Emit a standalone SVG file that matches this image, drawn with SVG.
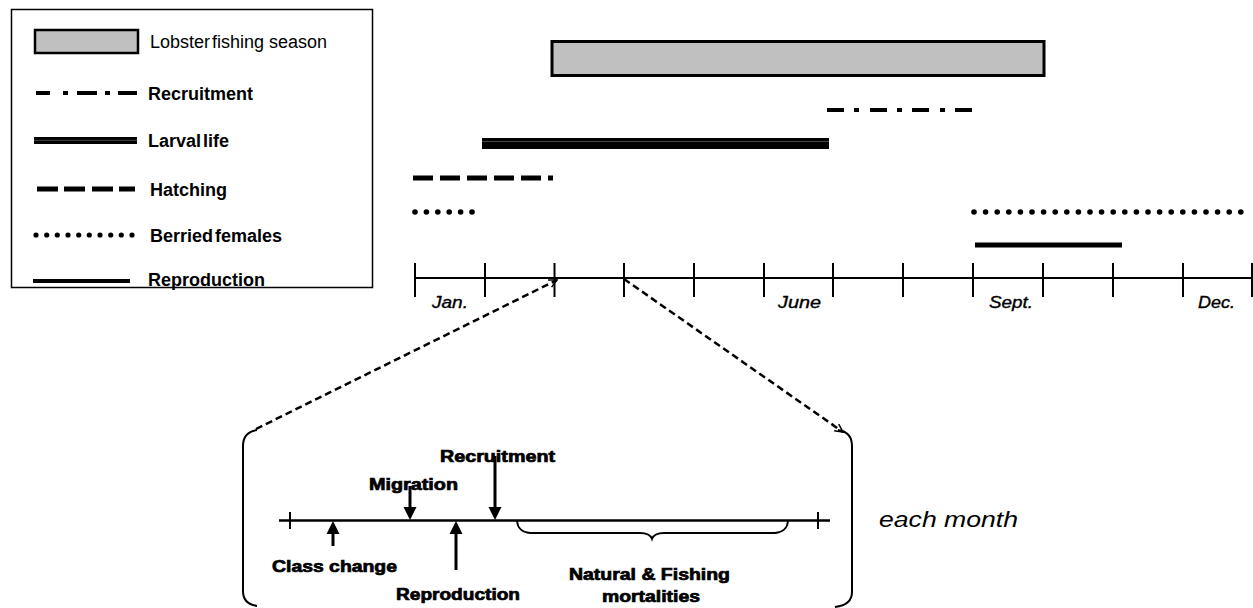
<svg xmlns="http://www.w3.org/2000/svg" width="1253" height="608" viewBox="0 0 1253 608">
<style>
.lg{font-family:"Liberation Sans",Arial,sans-serif;font-size:18px;font-weight:bold;fill:#000}
.lgr{font-family:"Liberation Sans",Arial,sans-serif;font-size:18px;fill:#000}
.mo{font-family:"Liberation Sans",Arial,sans-serif;font-size:16px;font-style:italic;fill:#000;stroke:#000;stroke-width:0.35}
.ev{font-family:"Liberation Sans",Arial,sans-serif;font-size:16px;font-weight:bold;fill:#000;stroke:#000;stroke-width:0.7}
.em{font-family:"Liberation Sans",Arial,sans-serif;font-size:22px;font-style:italic;fill:#000}
.ln{stroke:#000;fill:none}
.dot{fill:#000}
.arr{stroke:#000;stroke-width:3;fill:none}
.ah{fill:#000}
.conn{stroke:#000;stroke-width:2.5;stroke-dasharray:7 4;fill:none}
</style>
<defs>
<marker id="oa" viewBox="0 0 10 10" refX="9" refY="5" markerWidth="4" markerHeight="4" orient="auto" markerUnits="strokeWidth">
<path d="M1 1 L9 5 L1 9" fill="none" stroke="#000" stroke-width="1.5"/>
</marker>
</defs>
<rect width="1253" height="608" fill="#fff"/>

<g id="legend">
<rect x="11.5" y="9.5" width="361" height="278" fill="none" stroke="#000" stroke-width="1.5"/>
<rect x="35" y="30" width="103" height="23" fill="#C0C0C0" stroke="#000" stroke-width="2.5"/>
<text class="lgr" x="150" y="48">Lobster<tspan dx="2">fishing season</tspan></text>
<path class="ln" stroke-width="4" d="M36 93h14M63 93h5M77 93h20M105 93h5M118 93h19"/>
<text class="lg" x="148" y="100">Recruitment</text>
<rect x="34" y="137" width="103" height="7" fill="#000"/>
<line x1="34" y1="140.3" x2="137" y2="140.3" stroke="#777" stroke-width="0.6"/>
<text class="lg" x="148" y="147" word-spacing="-3">Larval life</text>
<path class="ln" stroke-width="5" d="M37 189h21M64 189h21M92 189h21M119 189h16"/>
<text class="lg" x="150" y="196">Hatching</text>
<g class="dot">
<circle cx="36" cy="235" r="2.6"/><circle cx="46.7" cy="235" r="2.6"/><circle cx="57.3" cy="235" r="2.6"/><circle cx="68" cy="235" r="2.6"/><circle cx="78.7" cy="235" r="2.6"/><circle cx="89.3" cy="235" r="2.6"/><circle cx="100" cy="235" r="2.6"/><circle cx="110.7" cy="235" r="2.6"/><circle cx="121.3" cy="235" r="2.6"/><circle cx="132" cy="235" r="2.6"/>
</g>
<text class="lg" x="150" y="242" word-spacing="-3">Berried females</text>
<line class="ln" x1="33" y1="281" x2="130" y2="281" stroke-width="4"/>
<text class="lg" x="148" y="286">Reproduction</text>
</g>

<g id="fishing-season">
<rect x="552" y="41.5" width="492" height="34" fill="#C0C0C0" stroke="#000" stroke-width="3"/>
</g>

<g id="recruitment">
<path class="ln" stroke-width="4" d="M827 110h17M854 110h5M870 110h17M897 110h5M912 110h17M940 110h5M955 110h17"/>
</g>

<g id="larval-life">
<rect x="482" y="138" width="347" height="11" fill="#000"/>
<line x1="482" y1="141.5" x2="829" y2="141.5" stroke="#777" stroke-width="0.6"/>
</g>

<g id="hatching">
<path class="ln" stroke-width="5" d="M413 178h20M440 178h20M467 178h20M494 178h20M521 178h20M548 178h5"/>
</g>

<g id="berried-females">
<g class="dot">
<circle cx="415" cy="212" r="2.8"/><circle cx="426.4" cy="212" r="2.8"/><circle cx="437.8" cy="212" r="2.8"/><circle cx="449.2" cy="212" r="2.8"/><circle cx="460.6" cy="212" r="2.8"/><circle cx="472" cy="212" r="2.8"/>
</g>
<g class="dot">
<circle cx="974" cy="212" r="2.8"/><circle cx="985.6" cy="212" r="2.8"/><circle cx="997.2" cy="212" r="2.8"/><circle cx="1008.8" cy="212" r="2.8"/><circle cx="1020.4" cy="212" r="2.8"/><circle cx="1032" cy="212" r="2.8"/><circle cx="1043.6" cy="212" r="2.8"/><circle cx="1055.2" cy="212" r="2.8"/><circle cx="1066.8" cy="212" r="2.8"/><circle cx="1078.4" cy="212" r="2.8"/><circle cx="1090" cy="212" r="2.8"/><circle cx="1101.6" cy="212" r="2.8"/><circle cx="1113.2" cy="212" r="2.8"/><circle cx="1124.8" cy="212" r="2.8"/><circle cx="1136.4" cy="212" r="2.8"/><circle cx="1148" cy="212" r="2.8"/><circle cx="1159.6" cy="212" r="2.8"/><circle cx="1171.2" cy="212" r="2.8"/><circle cx="1182.8" cy="212" r="2.8"/><circle cx="1194.4" cy="212" r="2.8"/><circle cx="1206" cy="212" r="2.8"/><circle cx="1217.6" cy="212" r="2.8"/><circle cx="1229.2" cy="212" r="2.8"/><circle cx="1240.8" cy="212" r="2.8"/>
</g>
</g>

<g id="reproduction">
<line class="ln" x1="975" y1="245" x2="1122" y2="245" stroke-width="5"/>
</g>

<g id="month-axis">
<line class="ln" x1="415" y1="278" x2="1253" y2="278" stroke-width="2"/>
<path class="ln" stroke-width="2" d="M415 263v34M485 263v34M554.5 263v34M624 263v34M694 263v34M764 263v34M833 263v34M903 263v34M973 263v34M1043 263v34M1113 263v34M1183 263v34M1252 263v34"/>
<text class="mo" x="432" y="308" textLength="36" lengthAdjust="spacingAndGlyphs">Jan.</text>
<text class="mo" x="778" y="308" textLength="43" lengthAdjust="spacingAndGlyphs">June</text>
<text class="mo" x="989" y="308" textLength="44" lengthAdjust="spacingAndGlyphs">Sept.</text>
<text class="mo" x="1198" y="308" textLength="37" lengthAdjust="spacingAndGlyphs">Dec.</text>
</g>

<g id="connectors">
<line class="conn" x1="256" y1="429" x2="557" y2="280" marker-end="url(#oa)"/>
<line class="conn" x1="624" y1="279" x2="843" y2="432" marker-end="url(#oa)"/>
</g>

<g id="month-detail">
<path class="ln" stroke-width="2" d="M257 430 Q243 432 243 446 L243 591 Q243 604 257 606"/>
<path class="ln" stroke-width="2" d="M838 430 Q852 432 852 446 L852 592 Q852 605 835 607"/>
<line class="ln" x1="279" y1="520.5" x2="830" y2="520.5" stroke-width="2.5"/>
<path class="ln" stroke-width="2" d="M290 512v17M818 512v17"/>
<path class="ln" stroke-width="1.8" d="M517 521 Q518 532 530 533 L640 533 Q650 533 652 539 Q654 533 664 533 L775 533 Q787 532 788 521"/>
</g>

<g id="class-change">
<line class="arr" x1="333" y1="546" x2="333" y2="532"/>
<path class="ah" d="M333 521 L339.5 534 L326.5 534 Z"/>
<text class="ev" x="272" y="572" textLength="125" lengthAdjust="spacingAndGlyphs">Class change</text>
</g>

<g id="migration">
<text class="ev" x="369" y="490" textLength="89" lengthAdjust="spacingAndGlyphs">Migration</text>
<line class="arr" x1="410" y1="486" x2="410" y2="509"/>
<path class="ah" d="M410 520 L416.5 507 L403.5 507 Z"/>
</g>

<g id="reproduction-event">
<line class="arr" x1="456" y1="570" x2="456" y2="532"/>
<path class="ah" d="M456 521 L462.5 534 L449.5 534 Z"/>
<text class="ev" x="396" y="600" textLength="124" lengthAdjust="spacingAndGlyphs">Reproduction</text>
</g>

<g id="recruitment-event">
<text class="ev" x="440" y="462" textLength="115" lengthAdjust="spacingAndGlyphs">Recruitment</text>
<line class="arr" x1="495" y1="456" x2="495" y2="509"/>
<path class="ah" d="M495 520 L501.5 507 L488.5 507 Z"/>
</g>

<g id="mortalities">
<text class="ev" x="569" y="580" textLength="161" lengthAdjust="spacingAndGlyphs">Natural &amp; Fishing</text>
<text class="ev" x="602" y="602" textLength="98" lengthAdjust="spacingAndGlyphs">mortalities</text>
</g>

<g id="each-month">
<text class="em" x="879" y="527" textLength="139" lengthAdjust="spacingAndGlyphs">each month</text>
</g>
</svg>
